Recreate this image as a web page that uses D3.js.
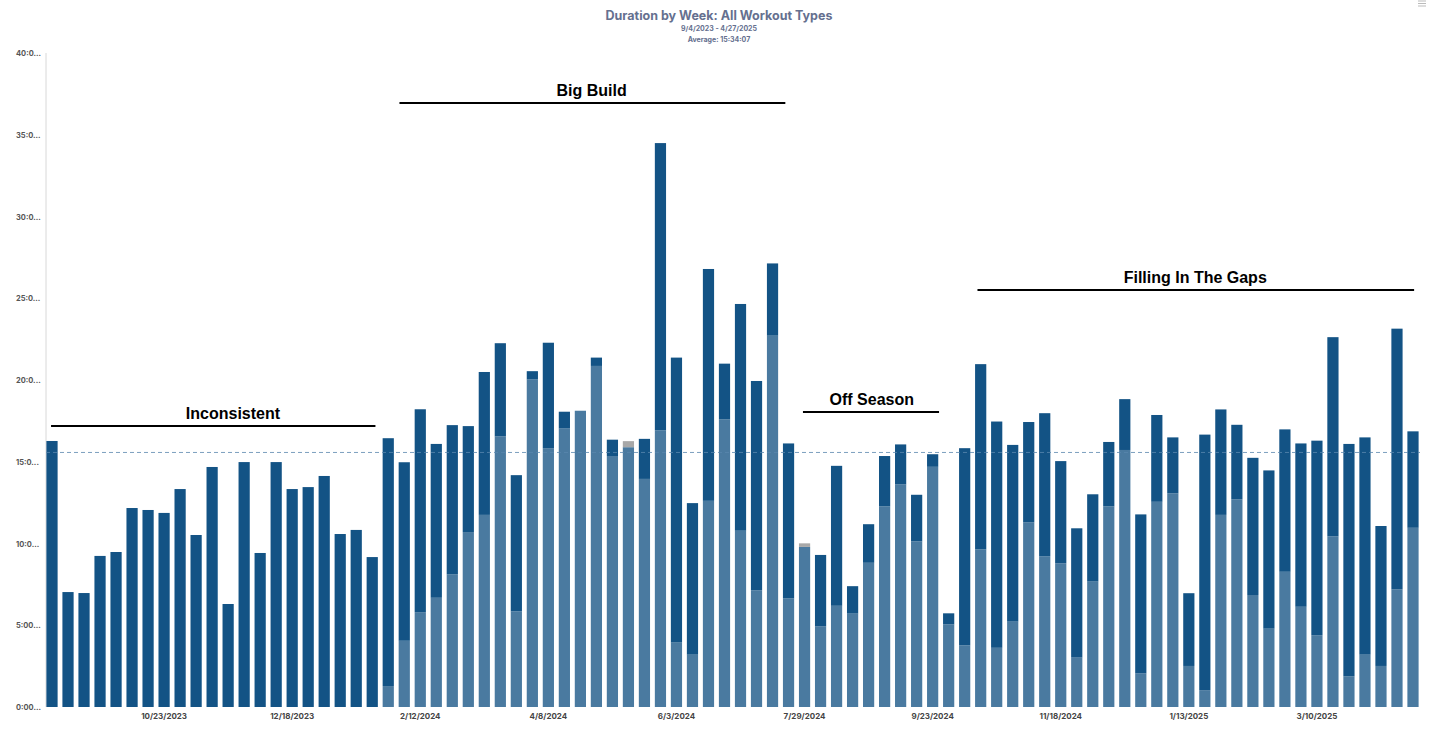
<!DOCTYPE html>
<html><head><meta charset="utf-8">
<script src="https://cdn.jsdelivr.net/npm/d3@7"></script>
<style>body{margin:0;background:#fff;font-family:Inter,"Open Sans",sans-serif}</style>
</head><body><svg id="c" width="1429" height="732"></svg>
<script>
const startDate = "2023-09-04";
const lightVals = [0,0,0,0,0,0,0,0,0,0,0,0,0,0,0,0,0,0,0,0,0,
 1.28,4.05,5.8,6.68,8.12,10.70,11.75,16.55,5.85,20.03,15.83,17.03,18.12,20.86,15.35,15.89,13.95,16.92,3.94,3.20,12.61,17.6,10.78,7.13,22.71,6.65,9.79,4.94,6.19,5.71,8.82,12.27,13.61,10.13,14.69,5.05,
 3.77,9.64,3.62,5.22,11.30,9.22,8.79,3.02,7.67,12.27,15.72,2.05,12.55,13.07,2.51,1.03,11.75,12.70,6.85,4.79,8.27,6.13,4.39,10.44,1.88,3.20,2.51,7.19,10.96];
const totalVals = [16.27,7.03,6.97,9.24,9.48,12.17,12.05,11.87,13.33,10.52,14.68,6.30,14.98,9.42,14.98,13.33,13.45,14.13,10.58,10.83,9.17,
 16.44,14.97,18.21,16.09,17.24,17.18,20.49,22.25,14.18,20.54,22.28,18.06,18.12,21.37,16.35,15.89,16.40,34.49,21.37,12.47,26.79,21.0,24.65,19.94,27.13,16.12,9.79,9.30,14.75,7.39,11.18,15.35,16.06,12.98,15.46,5.73,
 15.83,20.97,17.46,16.03,17.43,17.97,15.04,10.93,13.01,16.21,18.83,11.78,17.86,16.49,6.96,16.66,18.20,17.26,15.24,14.47,16.98,16.12,16.29,22.62,16.09,16.49,11.07,23.14,16.86];
const grayVals = {36:0.37, 47:0.22};
const yTicks = [0,5,10,15,20,25,30,35,40];
const tickEvery = 8, tickOffset = 7;
const average = 15 + 34/60 + 7/3600;
const annotations = [
  {label:"Inconsistent", from:-0.06, to:20.2, text:11.3, y:17.19},
  {label:"Big Build", from:21.7, to:45.8, text:33.7, y:36.94},
  {label:"Off Season", from:46.9, to:55.4, text:51.2, y:18.04},
  {label:"Filling In The Gaps", from:57.8, to:85.07, text:71.4, y:25.5}
];

const svg = d3.select("#c");
const n = totalVals.length;
const parse = d3.timeParse("%Y-%m-%d");
const dates = d3.range(n).map(i => d3.timeDay.offset(parse(startDate), 7*i));
const fmt = d3.timeFormat("%-m/%-d/%Y");
const x = d3.scaleBand().domain(d3.range(n)).range([44,1421]).paddingInner(0.3).paddingOuter(0.15);
const y = d3.scaleLinear().domain([0,40]).range([707,53]);
const cx = i => x(0) + x.step()*i + x.bandwidth()/2;

svg.append("line").attr("x1",46).attr("x2",46).attr("y1",53).attr("y2",707).attr("stroke","#d8d8d8");
svg.append("g").selectAll("text").data(yTicks).join("text")
  .attr("x",16).attr("y",d=>y(d)+3).attr("font-size",7.5).attr("fill","#555").attr("font-weight","bold")
  .text(d => (d+":00:00").slice(0,4) + "...");
svg.append("g").selectAll("text").data(d3.range(tickOffset,n,tickEvery)).join("text")
  .attr("x",cx).attr("y",719).attr("text-anchor","middle").attr("font-size",8).attr("fill","#444").attr("font-weight","bold")
  .text(i=>fmt(dates[i]));

const rows = d3.range(n).map(i => ({i, l: lightVals[i], d: Math.max(0,totalVals[i]-lightVals[i]), g: grayVals[i]||0}));
const g = svg.append("g");
rows.forEach(r => {
  const segs = [[0,r.l,"#4a7aa0"],[r.l,r.l+r.d,"#135385"],[r.l+r.d,r.l+r.d+r.g,"#a8a8a8"]];
  segs.forEach(([a,b,c]) => { if(b-a>0.001) g.append("rect").attr("x",x(r.i)).attr("width",x.bandwidth())
    .attr("y",y(b)).attr("height",y(a)-y(b)).attr("fill",c); });
});

svg.append("line").attr("x1",46).attr("x2",1420).attr("y1",y(average)).attr("y2",y(average))
  .attr("stroke","#5b86ad").attr("stroke-dasharray","4,3").attr("stroke-width",0.8);

annotations.forEach(a => {
  const x1 = cx(a.from), x2 = cx(a.to);
  svg.append("line").attr("x1",x1).attr("x2",x2).attr("y1",y(a.y)).attr("y2",y(a.y)).attr("stroke","#000").attr("stroke-width",2);
  svg.append("text").attr("x",cx(a.text)).attr("y",y(a.y)-7).attr("text-anchor","middle")
    .attr("font-size",16).attr("font-weight","bold").attr("fill","#000").attr("font-family","Liberation Sans, Arial, sans-serif").text(a.label);
});

svg.append("text").attr("x",719).attr("y",20).attr("text-anchor","middle").attr("font-size",12.5).attr("font-weight","bold").attr("fill","#65708f").text("Duration by Week: All Workout Types");
svg.append("text").attr("x",719).attr("y",31).attr("text-anchor","middle").attr("font-size",7).attr("font-weight","bold").attr("fill","#65708f").text(fmt(dates[0])+" - 4/27/2025");
svg.append("text").attr("x",719).attr("y",42).attr("text-anchor","middle").attr("font-size",7).attr("font-weight","bold").attr("fill","#65708f").text("Average: 15:34:07");
[1,3.5,6].forEach(d=>svg.append("line").attr("x1",1418).attr("x2",1426).attr("y1",d).attr("y2",d).attr("stroke","#bbb").attr("stroke-width",1));
</script></body></html>
